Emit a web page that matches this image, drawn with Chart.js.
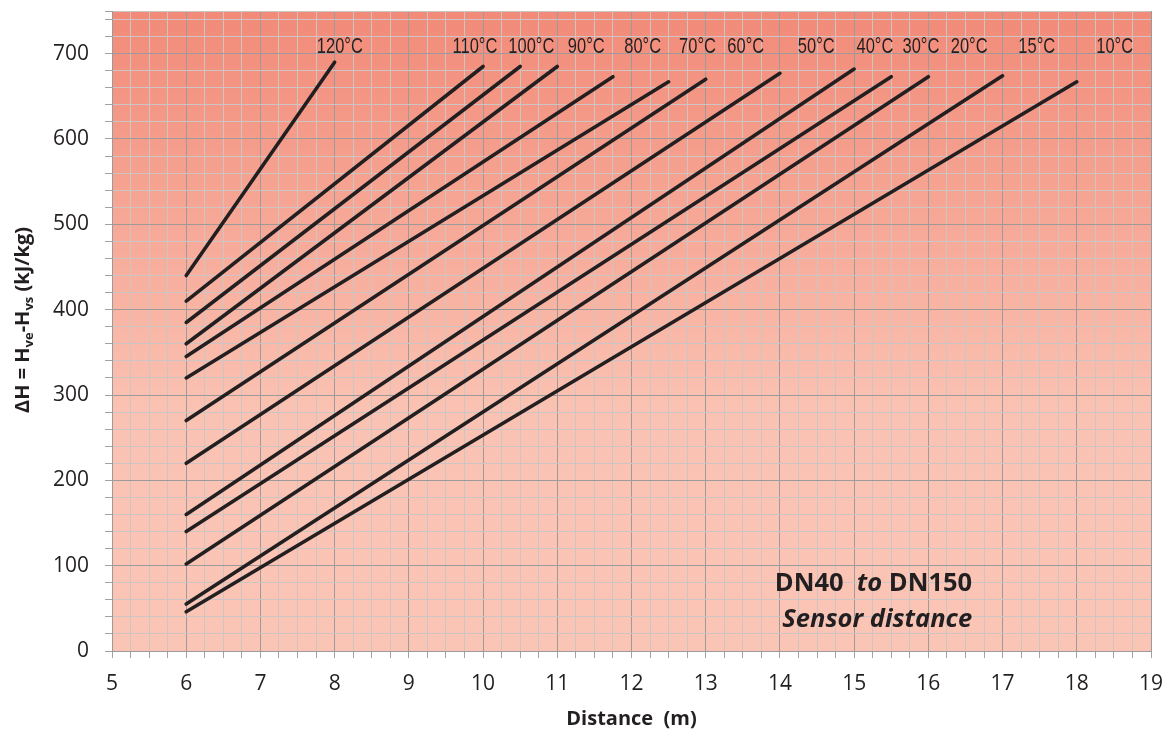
<!DOCTYPE html>
<html>
<head>
<meta charset="utf-8">
<script src="https://cdn.jsdelivr.net/npm/chart.js@4.4.1/dist/chart.umd.min.js"></script>
<style>
  html, body { margin: 0; padding: 0; background: #ffffff; }
</style>
</head>
<body>
<canvas id="chart" width="1166" height="732"></canvas>
<script>
// curve data (distance in m, delta H in kJ/kg)
const temperatures = ["120°C", "110°C", "100°C", "90°C", "80°C", "70°C", "60°C", "50°C", "40°C", "30°C", "20°C", "15°C", "10°C"];
const startDistance = [6, 6, 6, 6, 6, 6, 6, 6, 6, 6, 6, 6, 6];
const startDeltaH = [440, 410, 385, 360, 345, 320, 270, 220, 160, 140, 102, 55, 46];
const endDistance = [8, 10, 10.5, 11, 11.75, 12.5, 13, 14, 15, 15.5, 16, 17, 18];
const endDeltaH = [690, 685, 685, 685, 673, 667, 670, 677, 682, 673, 673, 674, 667];
const labelDistance = [8.07, 9.89, 10.65, 11.39, 12.15, 12.89, 13.54, 14.49, 15.28, 15.9, 16.55, 17.46, 18.51];
const labelDeltaH = 708;

const xTickLabels = [5, 6, 7, 8, 9, 10, 11, 12, 13, 14, 15, 16, 17, 18, 19];
const yTickLabels = [0, 100, 200, 300, 400, 500, 600, 700];
const xMinorStep = 0.25;
const yMinorStep = 20;
const yMax = 750;

const ink = "#231f20";
const tickFont = { family: "'Open Sans', 'Noto Sans', sans-serif", size: 21 };

const datasets = temperatures.map((t, i) => ({
  label: t,
  data: [
    { x: startDistance[i], y: startDeltaH[i] },
    { x: endDistance[i], y: endDeltaH[i] },
  ],
  borderColor: ink,
  borderWidth: 3.6,
  borderCapStyle: "round",
  pointRadius: 0,
  fill: false,
}));

const backgroundPlugin = {
  id: "paper",
  beforeDraw(chart) {
    const { ctx, chartArea: a } = chart;
    const g = ctx.createLinearGradient(0, a.top, 0, a.bottom);
    g.addColorStop(0, "#f28a78");
    g.addColorStop(0.62, "#fac2b2");
    g.addColorStop(1, "#fbc5b6");
    ctx.save();
    ctx.fillStyle = g;
    ctx.fillRect(a.left, a.top, a.right - a.left, a.bottom - a.top);
    ctx.restore();
  },
};

const textPlugin = {
  id: "texts",
  afterDatasetsDraw(chart) {
    const { ctx } = chart;
    const xs = chart.scales.x;
    const ys = chart.scales.y;
    ctx.save();
    ctx.fillStyle = ink;

    // curve labels, squeezed to look like a narrow face
    ctx.font = "22px 'Liberation Sans', sans-serif";
    ctx.textAlign = "center";
    ctx.textBaseline = "middle";
    temperatures.forEach((t, i) => {
      const px = xs.getPixelForValue(labelDistance[i]);
      const py = ys.getPixelForValue(labelDeltaH);
      ctx.save();
      ctx.translate(px, py);
      ctx.scale(0.75, 1);
      ctx.fillText(t, 0, 0);
      ctx.restore();
    });

    // note text, right aligned
    const rightX = xs.getPixelForValue(16.59);
    ctx.textAlign = "left";
    ctx.textBaseline = "alphabetic";
    const parts = [
      ["bold 25.5px 'Open Sans', sans-serif", "DN40  "],
      ["italic bold 25.5px 'Open Sans', sans-serif", "to"],
      ["bold 25.5px 'Open Sans', sans-serif", " DN150"],
    ];
    let w = 0;
    parts.forEach(([f, s]) => { ctx.font = f; w += ctx.measureText(s).width; });
    let px = rightX - w;
    const y1 = ys.getPixelForValue(70);
    parts.forEach(([f, s]) => { ctx.font = f; ctx.fillText(s, px, y1); px += ctx.measureText(s).width; });
    ctx.font = "italic bold 25.5px 'Open Sans', sans-serif";
    ctx.textAlign = "right";
    ctx.fillText("Sensor distance", rightX, ys.getPixelForValue(28));

    // y axis title with subscripts
    const big = "bold 20px 'Open Sans', sans-serif";
    const small = "bold 13px 'Open Sans', sans-serif";
    const tparts = [
      [big, "ΔH = H", 0],
      [small, "ve", 4],
      [big, "-H", 0],
      [small, "vs", 4],
      [big, " (kJ/kg)", 0],
    ];
    let tw = 0;
    tparts.forEach(([f, s]) => { ctx.font = f; tw += ctx.measureText(s).width; });
    ctx.translate(29, 320);
    ctx.rotate(-Math.PI / 2);
    ctx.textAlign = "left";
    ctx.textBaseline = "alphabetic";
    let tx = -tw / 2;
    tparts.forEach(([f, s, dy]) => {
      ctx.font = f;
      ctx.fillText(s, tx, dy);
      tx += ctx.measureText(s).width;
    });
    ctx.restore();
  },
};

function minorTicks(min, max, step) {
  const out = [];
  for (let v = min; v <= max + 1e-9; v += step) out.push({ value: Math.round(v * 100) / 100 });
  return out;
}

new Chart(document.getElementById("chart"), {
  type: "line",
  data: { datasets },
  options: {
    responsive: false,
    animation: false,
    layout: { padding: { top: 11, right: 15, left: 0, bottom: 0 } },
    plugins: {
      legend: { display: false },
      tooltip: { enabled: false },
    },
    scales: {
      x: {
        type: "linear",
        min: xTickLabels[0],
        max: xTickLabels[xTickLabels.length - 1],
        afterBuildTicks: (scale) => {
          scale.ticks = minorTicks(scale.min, scale.max, xMinorStep);
        },
        afterFit: (scale) => {
          scale.height = 81;
          scale.paddingLeft = 0;
          scale.paddingRight = 0;
        },
        grid: {
          color: (c) => (xTickLabels.includes(c.tick.value) ? "#9c9a9a" : "#cdc5c3"),
          tickColor: "#a3a1a1",
          tickLength: 7,
        },
        border: { color: "#9c9a9a" },
        ticks: {
          autoSkip: false,
          maxRotation: 0,
          color: ink,
          font: tickFont,
          padding: 13,
          callback: (v) => (xTickLabels.includes(v) ? v : ""),
        },
        title: {
          display: true,
          text: "Distance  (m)",
          color: ink,
          font: { family: "'Open Sans', sans-serif", size: 20, weight: "bold" },
          padding: { top: 0, bottom: 1 },
        },
      },
      y: {
        type: "linear",
        min: 0,
        max: yMax,
        afterBuildTicks: (scale) => {
          const t = minorTicks(0, yMax, yMinorStep);
          t.push({ value: yMax });
          scale.ticks = t;
        },
        afterFit: (scale) => {
          scale.width = 112;
          scale.paddingTop = 0;
          scale.paddingBottom = 0;
        },
        grid: {
          color: (c) => (yTickLabels.includes(c.tick.value) ? "#9c9a9a" : "#cdc5c3"),
          tickColor: "#a3a1a1",
          tickLength: 7,
        },
        border: { color: "#9c9a9a" },
        ticks: {
          autoSkip: false,
          color: ink,
          font: tickFont,
          padding: 16,
          callback: (v) => (yTickLabels.includes(v) ? v : ""),
        },
      },
    },
  },
  plugins: [backgroundPlugin, textPlugin],
});
</script>
</body>
</html>
